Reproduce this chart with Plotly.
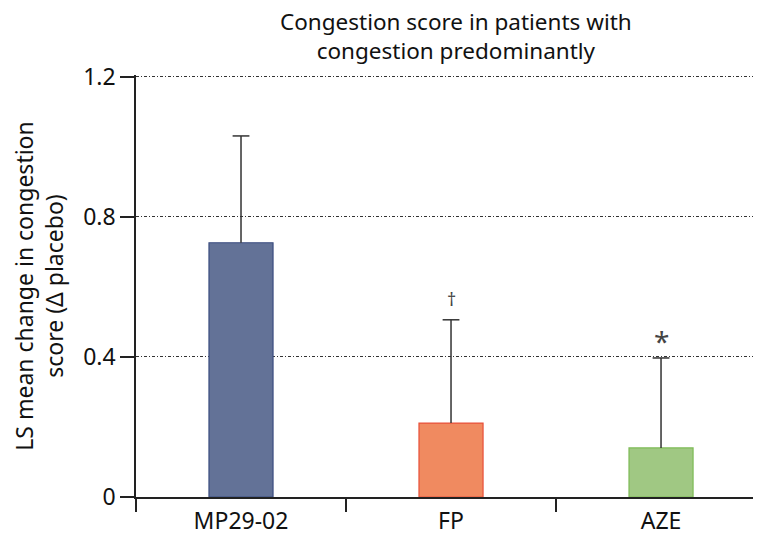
import plotly.graph_objects as go

categories = ["MP29-02", "FP", "AZE"]
values = [0.726, 0.211, 0.140]
errors_plus = [0.305, 0.295, 0.257]
markers = ["", "†", "*"]
fill_colors = ["#637297", "#f08a60", "#a0c883"]
edge_colors = ["#3b4d80", "#e8503a", "#7dbb55"]
y_ticks = [0, 0.4, 0.8, 1.2]
y_ticklabels = ["0", "0.4", "0.8", "1.2"]
title_text = "Congestion score in patients with<br>congestion predominantly"

FONT = "Noto Sans"
TXT = "#111111"
AX = "#222222"

tops = [v + e for v, e in zip(values, errors_plus)]

fig = go.Figure()
fig.add_trace(go.Bar(
    x=categories, y=values,
    width=0.305,
    marker=dict(color=fill_colors, line=dict(color=edge_colors, width=1.2)),
    hoverinfo="skip",
))

# one-sided (upper) error bars: stem from bar top to upper limit, plus cap
stem_x, stem_y = [], []
for c, v, t in zip(categories, values, tops):
    stem_x += [c, c, None]
    stem_y += [v, t, None]
fig.add_trace(go.Scatter(
    x=stem_x, y=stem_y, mode="lines",
    line=dict(color="#333333", width=1.5),
    hoverinfo="skip", cliponaxis=False,
))
fig.add_trace(go.Scatter(
    x=categories, y=tops, mode="markers",
    marker=dict(symbol="line-ew", size=12, line=dict(color="#333333", width=1.5)),
    hoverinfo="skip", cliponaxis=False,
))

for cat, t, m in zip(categories, tops, markers):
    if not m:
        continue
    fig.add_annotation(
        x=cat, y=t, text=m, showarrow=False,
        yanchor="bottom",
        yshift=7 if m == "†" else -4,
        font=dict(family=FONT, size=18 if m == "†" else 28, color="#444444"),
    )

# chart title
fig.add_annotation(
    xref="paper", yref="paper", x=0.512, y=1,
    xanchor="center", yanchor="bottom", yshift=7,
    text=title_text, showarrow=False,
    font=dict(family=FONT, size=22.5, color=TXT),
)

fig.update_layout(
    width=753, height=527,
    margin=dict(l=128, r=0, t=67, b=38, autoexpand=False),
    paper_bgcolor="white", plot_bgcolor="white",
    showlegend=False,
    font=dict(family=FONT, size=23, color=TXT),
    xaxis=dict(
        type="category",
        range=[-0.5, 2.476],
        tickson="boundaries",
        ticks="outside", ticklen=13, tickwidth=1.5, tickcolor=AX,
        showline=True, linecolor=AX, linewidth=1.5,
        showgrid=False, zeroline=False, automargin=False,
        ticklabelstandoff=3,
        tickfont=dict(family=FONT, size=23, color=TXT),
    ),
    yaxis=dict(
        range=[0, 1.205],
        tickvals=y_ticks, ticktext=y_ticklabels,
        ticks="outside", ticklen=14, tickwidth=1.5, tickcolor=AX,
        showline=True, linecolor=AX, linewidth=1.5,
        showgrid=True, gridcolor="#333333", gridwidth=1,
        griddash="3px,2px,1px,2px",
        zeroline=False, automargin=False,
        tickfont=dict(family=FONT, size=23, color=TXT),
        title=dict(text="LS mean change in congestion<br>score (Δ placebo)",
                   font=dict(family=FONT, size=23, color=TXT),
                   standoff=17),
    ),
)

fig.write_html("out.html")
